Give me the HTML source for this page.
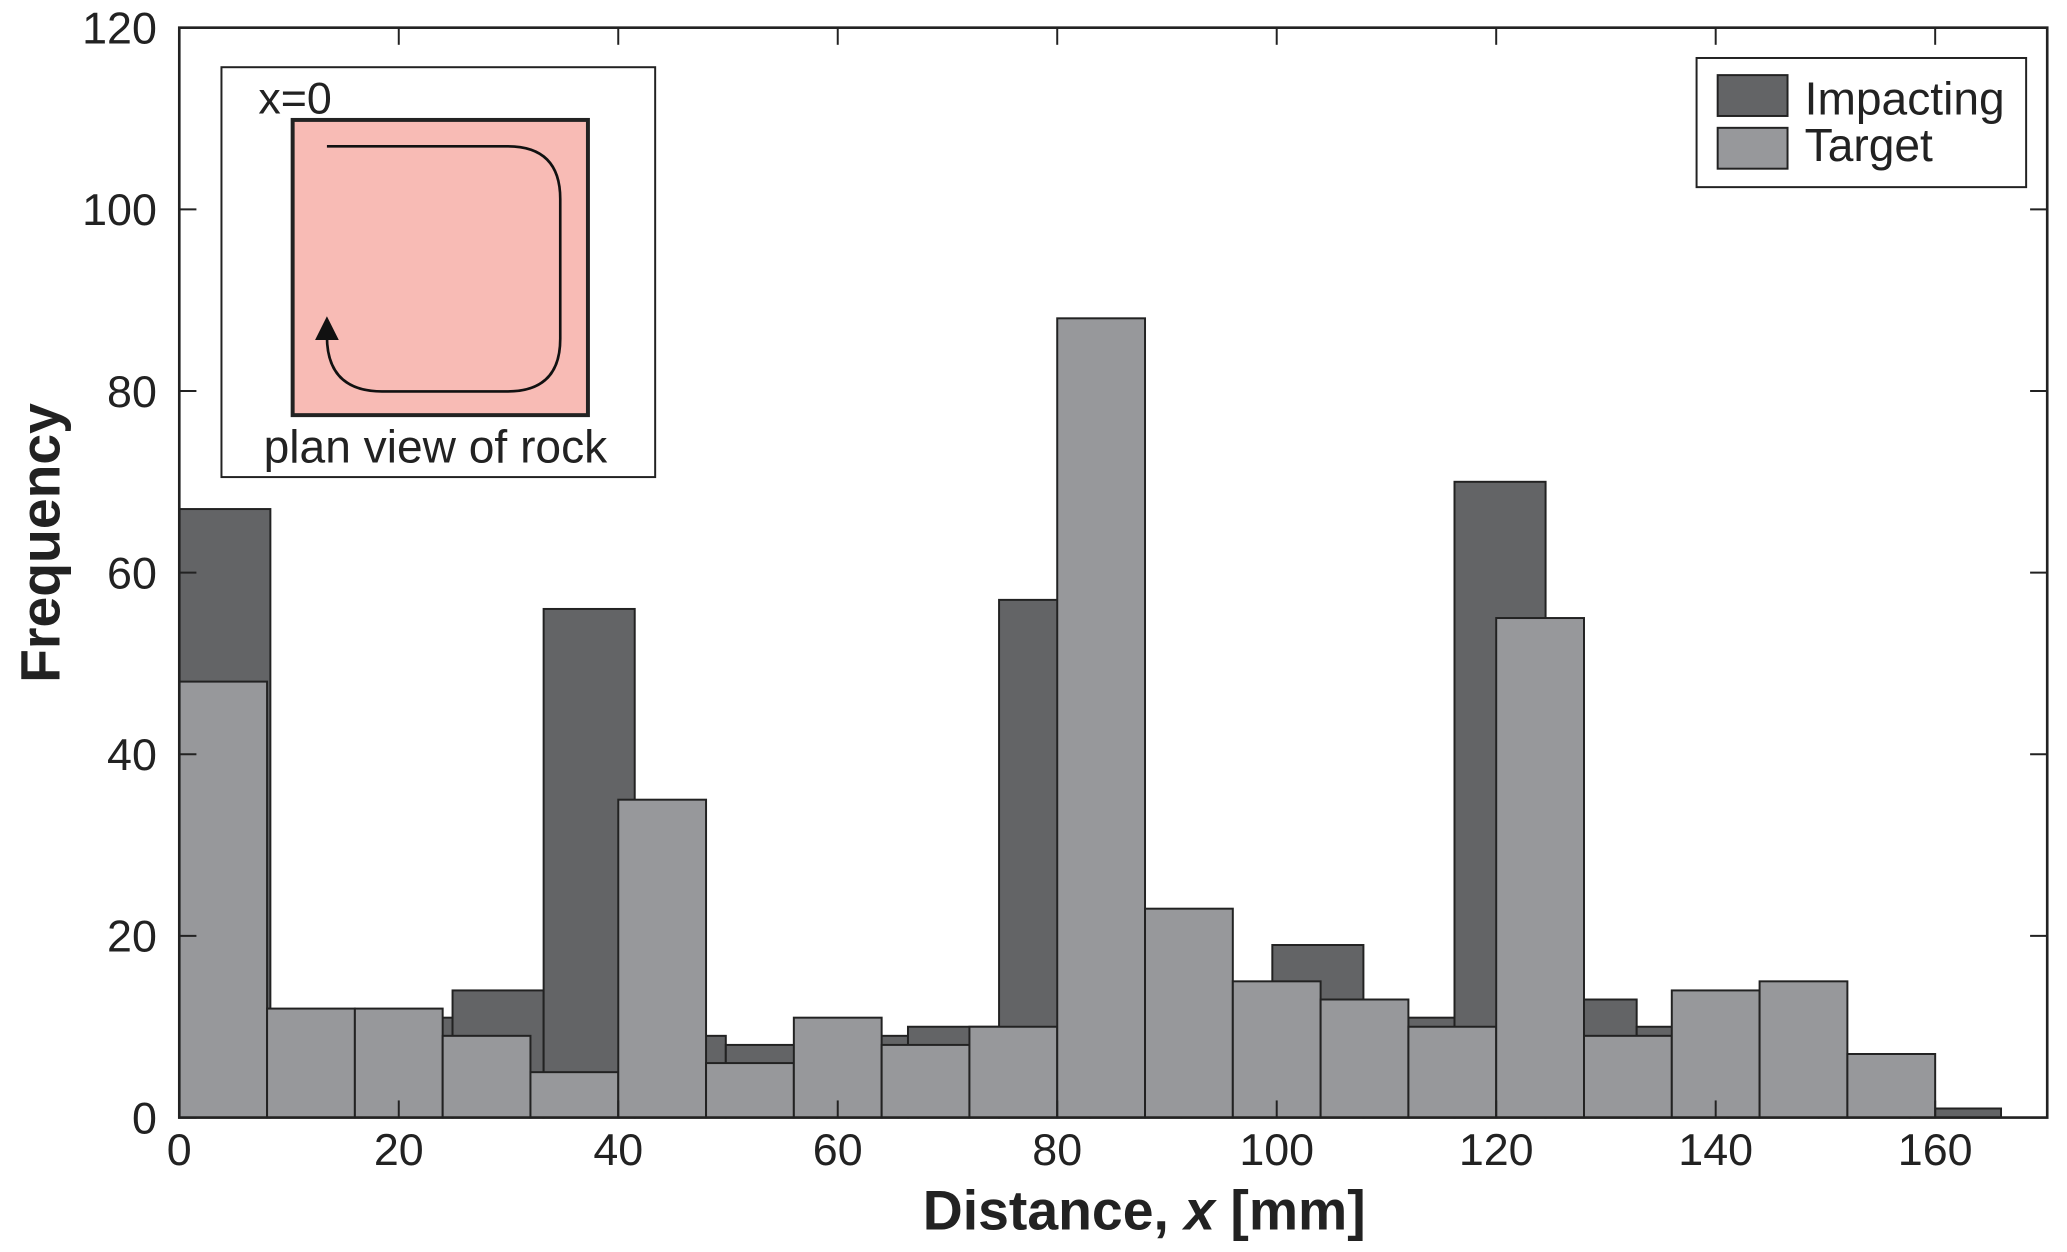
<!DOCTYPE html>
<html><head><meta charset="utf-8"><style>
html,body{margin:0;padding:0;background:#fff;}
svg{display:block;font-family:"Liberation Sans",Arial,sans-serif;}
</style></head><body>
<svg id="chart" width="2067" height="1252" viewBox="0 0 1568 950" preserveAspectRatio="none" xmlns="http://www.w3.org/2000/svg">
<g id="bars-imp"></g>
<g id="bars-tgt"></g>
<g id="axes"></g>
<g>
<rect x="168" y="51" width="329" height="311" fill="#fff" stroke="#222" stroke-width="1.5"/>
<rect x="222" y="91" width="224" height="224" fill="#f8bbb5" stroke="#222" stroke-width="3"/>
<path d="M248,111 L385,111 Q425,111 425,151 L425,257 Q425,297 385,297 L290,297 Q248,297 248,255" fill="none" stroke="#111" stroke-width="2"/>
<polygon points="248,240 239,258 257,258" fill="#111"/>
<text x="196" y="86" font-size="34" fill="#222">x=0</text>
<text x="200" y="351" font-size="35" fill="#222">plan view of rock</text>
</g>
<g>
<rect x="1287" y="44" width="250" height="98" fill="#fff" stroke="#222" stroke-width="1.5"/>
<rect x="1303" y="57" width="53" height="31" fill="#636466" stroke="#222" stroke-width="1.5"/>
<rect x="1303" y="97" width="53" height="31" fill="#97989b" stroke="#222" stroke-width="1.5"/>
<text x="1369" y="87" font-size="35" fill="#222">Impacting</text>
<text x="1369" y="122" font-size="35" fill="#222">Target</text>
</g>
<text x="868" y="933" font-size="42" font-weight="bold" text-anchor="middle" fill="#222">Distance, <tspan font-style="italic">x</tspan> [mm]</text>
<text transform="translate(45,412) rotate(-90)" font-size="42" font-weight="bold" text-anchor="middle" fill="#222">Frequency</text>
</svg>
<script>
const impValues = [67,10,11,14,56,9,8,9,10,57,20,12,19,11,70,13,10,8,5,1];
const tgtValues = [48,12,12,9,5,35,6,11,8,10,88,23,15,13,10,55,9,14,15,7];
const impBinWidth = 8.3;
const tgtBinWidth = 8;
const xTicks = [0,20,40,60,80,100,120,140,160];
const yTicks = [0,20,40,60,80,100,120];
const NS="http://www.w3.org/2000/svg";
const L=136,R=1553,T=21,B=848;
const xs=v=>L+v*(1468-136)/160;
const ys=v=>B-v*(B-T)/120;
function mk(tag,attrs,parent){const e=document.createElementNS(NS,tag);for(const k in attrs)e.setAttribute(k,attrs[k]);parent.appendChild(e);return e;}
const gi=document.getElementById('bars-imp'),gt=document.getElementById('bars-tgt'),ga=document.getElementById('axes');
impValues.forEach((v,i)=>{const x0=xs(i*impBinWidth),x1=xs((i+1)*impBinWidth);
const r=mk('rect',{x:x0,y:ys(v),width:x1-x0,height:B-ys(v),fill:'#636466',stroke:'#222','stroke-width':1.5},gi);

});
tgtValues.forEach((v,i)=>{const x0=xs(i*tgtBinWidth),x1=xs((i+1)*tgtBinWidth);
const r=mk('rect',{x:x0,y:ys(v),width:x1-x0,height:B-ys(v),fill:'#97989b',stroke:'#222','stroke-width':1.5},gt);

});
const fr=mk('rect',{x:L,y:T,width:R-L,height:B-T,fill:'none',stroke:'#222','stroke-width':2},ga);


xTicks.forEach(t=>{const x=xs(t);
mk('line',{x1:x,x2:x,y1:B,y2:B-13,stroke:'#222','stroke-width':1.5},ga);
mk('line',{x1:x,x2:x,y1:T,y2:T+13,stroke:'#222','stroke-width':1.5},ga);
const tx=mk('text',{x:x,y:884,'font-size':34,'text-anchor':'middle',fill:'#222'},ga);tx.textContent=t;

});
yTicks.forEach(t=>{const y=ys(t);
mk('line',{x1:L,x2:L+13,y1:y,y2:y,stroke:'#222','stroke-width':1.5},ga);
mk('line',{x1:R,x2:R-13,y1:y,y2:y,stroke:'#222','stroke-width':1.5},ga);
const tx=mk('text',{x:119,y:y+12,'font-size':34,'text-anchor':'end',fill:'#222'},ga);tx.textContent=t;

});
</script>
</body></html>
